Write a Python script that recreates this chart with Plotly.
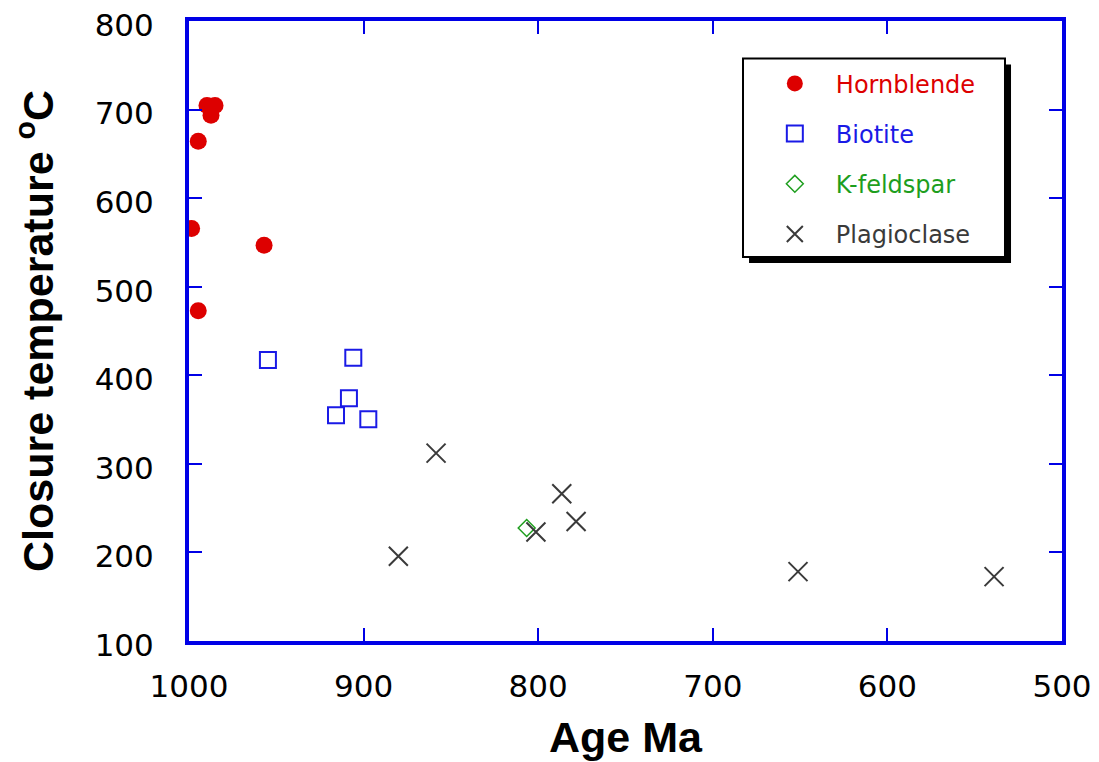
import plotly.graph_objects as go

# ---- data ----
hbl_age = [989.7, 985.1, 987.4, 994.7, 998.5, 957.0, 994.7]
hbl_temp = [704.7, 704.7, 693.5, 664.2, 565.8, 546.9, 472.9]

bio_age = [954.8, 905.9, 908.4, 915.8, 897.3]
bio_temp = [417.3, 419.9, 374.1, 354.9, 350.4]

kfs_age = [806.6]
kfs_temp = [227.6]

plg_age = [858.5, 786.5, 778.3, 801.3, 880.1, 651.2, 538.9]
plg_temp = [312.1, 266.2, 235.0, 223.1, 195.6, 178.3, 172.7]

x_ticks = [1000, 900, 800, 700, 600, 500]
y_ticks = [100, 200, 300, 400, 500, 600, 700, 800]

RED = "#DD0000"
BLUE = "#1A1AE6"
GREEN = "#1E9E1E"
GREY = "#3a3a3a"
AXIS = "#0000E6"

fig = go.Figure()

def lab(text, color):
    return f"<span style='color:{color}'>{text}</span>"

fig.add_trace(go.Scatter(
    x=hbl_age, y=hbl_temp, mode="markers", name=lab("Hornblende", RED),
    legendgroup="a",
    marker=dict(symbol="circle", size=17, color=RED, line=dict(width=0))))
fig.add_trace(go.Scatter(
    x=bio_age, y=bio_temp, mode="markers", name=lab("Biotite", BLUE),
    legendgroup="b",
    marker=dict(symbol="square-open", size=16, color=BLUE, line=dict(width=2, color=BLUE))))
fig.add_trace(go.Scatter(
    x=kfs_age, y=kfs_temp, mode="markers", name=lab("K-feldspar", GREEN),
    legendgroup="c",
    marker=dict(symbol="diamond-open", size=13, color=GREEN, line=dict(width=1.5, color=GREEN))))
fig.add_trace(go.Scatter(
    x=plg_age, y=plg_temp, mode="markers", name=lab("Plagioclase", GREY),
    legendgroup="d",
    marker=dict(symbol="x-thin-open", size=19, color=GREY, line=dict(width=2, color=GREY))))

# legend box with drop shadow
fig.add_shape(type="rect", xref="paper", yref="paper",
              x0=0.6415, x1=0.9416, y0=0.6095, y1=0.930,
              fillcolor="black", line=dict(width=0), layer="above")
fig.add_shape(type="rect", xref="paper", yref="paper",
              x0=0.6346, x1=0.9347, y0=0.6192, y1=0.9396,
              fillcolor="white", line=dict(width=2, color="black"), layer="above")

fig.update_layout(
    width=1099, height=762,
    margin=dict(l=181, r=45, t=13, b=128.5, autoexpand=False),
    paper_bgcolor="white", plot_bgcolor="white",
    showlegend=True,
    legend=dict(
        x=0.647, y=0.935, xanchor="left", yanchor="top",
        bgcolor="rgba(0,0,0,0)", borderwidth=0,
        font=dict(family="DejaVu Sans", size=24, color="black"),
        tracegroupgap=16, itemwidth=72,
    ),
    xaxis=dict(
        range=[1000, 500], tickvals=x_ticks, ticktext=[str(v) for v in x_ticks],
        showgrid=False, zeroline=False, automargin=False,
        showline=True, linecolor=AXIS, linewidth=4, mirror="ticks",
        ticks="inside", ticklen=13, tickwidth=2, tickcolor=AXIS,
        tickfont=dict(family="DejaVu Sans", size=31, color="black"),
        ticklabelstandoff=15, ticklabeloverflow="allow",
        title=dict(text="Age Ma", standoff=20,
                   font=dict(family="Liberation Sans", size=43, color="black", weight="bold")),
    ),
    yaxis=dict(
        range=[100, 800], tickvals=y_ticks, ticktext=[str(v) for v in y_ticks],
        showgrid=False, zeroline=False, automargin=False,
        showline=True, linecolor=AXIS, linewidth=4, mirror="ticks",
        ticks="inside", ticklen=13, tickwidth=2, tickcolor=AXIS,
        tickfont=dict(family="DejaVu Sans", size=31, color="black"),
        ticklabelstandoff=25, ticklabeloverflow="allow", ticklabelshift=4,
        title=dict(text="Closure temperature <sup>o</sup>C", standoff=38,
                   font=dict(family="Liberation Sans", size=43, color="black", weight="bold")),
    ),
)

fig.write_html("out.html")
